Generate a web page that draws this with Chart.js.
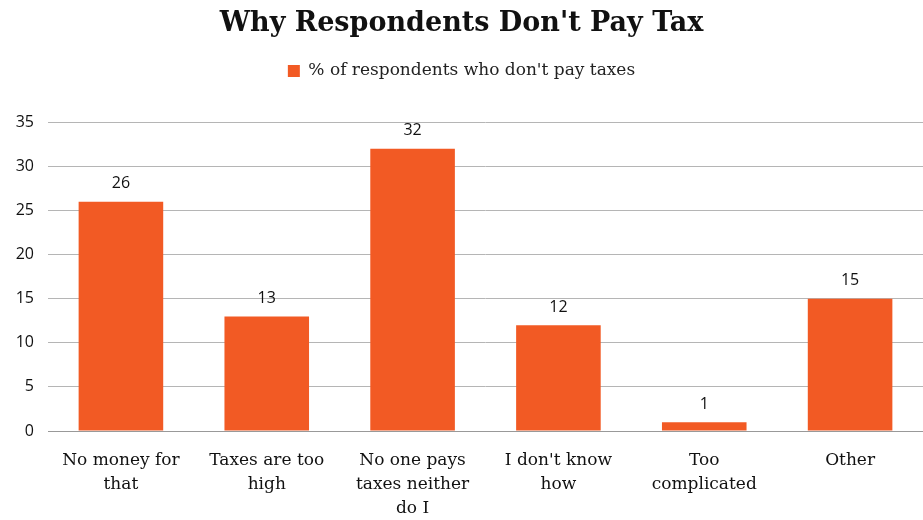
<!DOCTYPE html>
<html>
<head>
<meta charset="utf-8">
<script src="https://cdn.jsdelivr.net/npm/chart.js@4"></script>
<style>
  html, body { margin: 0; padding: 0; background: #fff; }
  #wrap { width: 923px; height: 520px; }
</style>
</head>
<body>
<div id="wrap"><canvas id="chart"></canvas></div>
<script>
const categories = [
    ['No money for', 'that'],
    ['Taxes are too', 'high'],
    ['No one pays', 'taxes neither', 'do I'],
    ["I don't know", 'how'],
    ['Too', 'complicated'],
    ['Other']
];
const values = [26, 13, 32, 12, 1, 15];
const yTicks = [0, 5, 10, 15, 20, 25, 30, 35];

const slab = '"DejaVu Serif", serif';
const sans = '"Open Sans", sans-serif';

// draws the number above each bar
const barLabels = {
    id: 'barLabels',
    afterDatasetsDraw(chart) {
        const ctx = chart.ctx;
        const meta = chart.getDatasetMeta(0);
        ctx.save();
        ctx.font = '16px ' + sans;
        ctx.fillStyle = '#111';
        ctx.textAlign = 'center';
        ctx.textBaseline = 'middle';
        meta.data.forEach((bar, i) => {
            ctx.fillText(values[i], bar.x, bar.y - 18);
        });
        ctx.restore();
    }
};

// extra room between legend and plot
const legendGap = {
    id: 'legendGap',
    beforeInit(chart) {
        const fit = chart.legend.fit;
        chart.legend.fit = function () {
            fit.bind(chart.legend)();
            this.height += 33;
        };
    }
};

new Chart(document.getElementById('chart'), {
    type: 'bar',
    data: {
        labels: categories,
        datasets: [{
            label: "% of respondents who don't pay taxes",
            data: values,
            backgroundColor: '#F25A24',
            barPercentage: 0.58,
            categoryPercentage: 1
        }]
    },
    options: {
        responsive: true,
        maintainAspectRatio: false,
        animation: false,
        layout: { padding: { left: 0, right: 0, top: 6, bottom: 0 } },
        plugins: {
            title: {
                display: true,
                text: "Why Respondents Don't Pay Tax",
                color: '#111',
                font: { family: slab, size: 27, weight: 'bold' },
                padding: { top: 2, bottom: 12 }
            },
            legend: {
                labels: {
                    boxWidth: 12,
                    boxHeight: 12,
                    color: '#222',
                    font: { family: slab, size: 17 }
                }
            },
            tooltip: { enabled: false }
        },
        scales: {
            x: {
                grid: { display: false },
                border: { color: '#999' },
                afterFit(axis) { axis.height = 89; },
                ticks: {
                    color: '#111',
                    font: { family: slab, size: 17, lineHeight: 1.4 },
                    maxRotation: 0,
                    autoSkip: false,
                    padding: 10
                }
            },
            y: {
                min: 0,
                max: 35,
                afterBuildTicks(axis) {
                    axis.ticks = yTicks.map(v => ({ value: v }));
                },
                afterFit(axis) { axis.width = 48; },
                grid: { color: '#b5b5b5', drawTicks: false },
                border: { display: false },
                ticks: {
                    color: '#111',
                    font: { family: sans, size: 16 },
                    padding: 14
                }
            }
        }
    },
    plugins: [barLabels, legendGap]
});
</script>
</body>
</html>
